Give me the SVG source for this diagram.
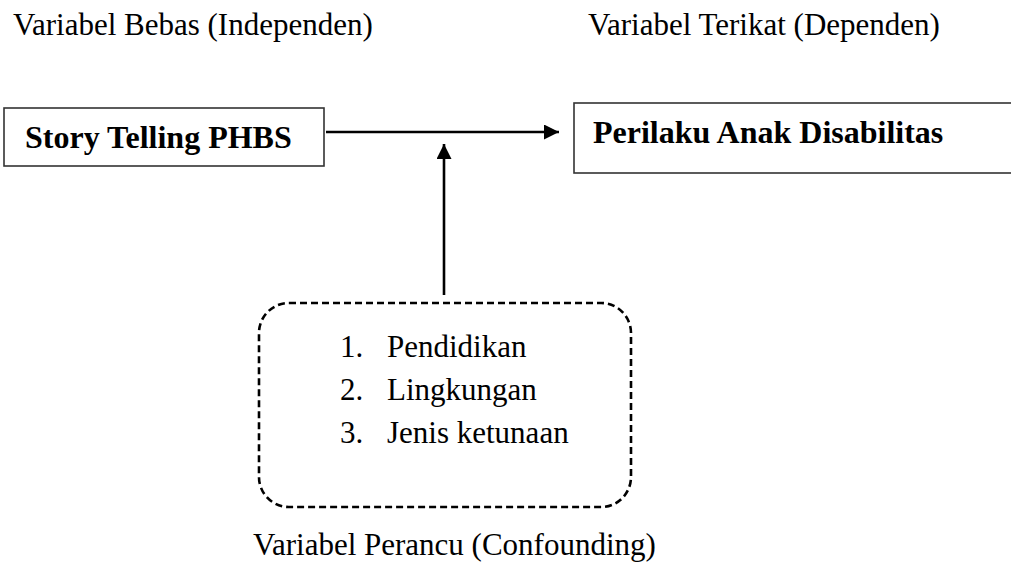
<svg xmlns="http://www.w3.org/2000/svg" width="1011" height="565" viewBox="0 0 1011 565">
  <style>
    .t { font-family: "Liberation Serif", "Times New Roman", serif; font-size: 31px; fill: #000; }
    .b { font-family: "Liberation Serif", "Times New Roman", serif; font-size: 32px; font-weight: bold; fill: #000; }
    .box { fill: #fff; stroke: #333; stroke-width: 1.6; }
    .dash { fill: #fff; stroke: #000; stroke-width: 2.6; stroke-dasharray: 7 4; }
    .conn { stroke: #000; stroke-width: 2.6; fill: none; }
  </style>
  <defs>
    <marker id="arrow" viewBox="0 0 10 10" refX="10" refY="5" markerUnits="userSpaceOnUse" markerWidth="15" markerHeight="15" orient="auto">
      <path d="M0,0 L10,5 L0,10 Z" fill="#000"/>
    </marker>
  </defs>
  <rect width="1011" height="565" fill="#fff"/>

  <text class="t" x="13" y="35">Variabel Bebas (Independen)</text>
  <text class="t" x="588" y="35">Variabel Terikat (Dependen)</text>
  <text class="t" x="253" y="555">Variabel Perancu (Confounding)</text>

  <g id="node-story-telling">
    <rect class="box" x="4" y="108" width="320" height="58"/>
    <text class="b" x="25" y="148">Story Telling PHBS</text>
  </g>

  <g id="node-perilaku">
    <rect class="box" x="574" y="103" width="450" height="70"/>
    <text class="b" x="593" y="143">Perilaku Anak Disabilitas</text>
  </g>

  <g id="node-perancu">
    <rect class="dash" x="259" y="303" width="372" height="204" rx="30" ry="30"/>
    <text class="t" x="340" y="357">1.</text>
    <text class="t" x="387" y="357">Pendidikan</text>
    <text class="t" x="340" y="400">2.</text>
    <text class="t" x="387" y="400">Lingkungan</text>
    <text class="t" x="340" y="443">3.</text>
    <text class="t" x="387" y="443">Jenis ketunaan</text>
  </g>

  <g id="connectors">
    <line class="conn" x1="326" y1="132" x2="559" y2="132" marker-end="url(#arrow)"/>
    <line class="conn" x1="444" y1="295" x2="444" y2="144" marker-end="url(#arrow)"/>
  </g>
</svg>
